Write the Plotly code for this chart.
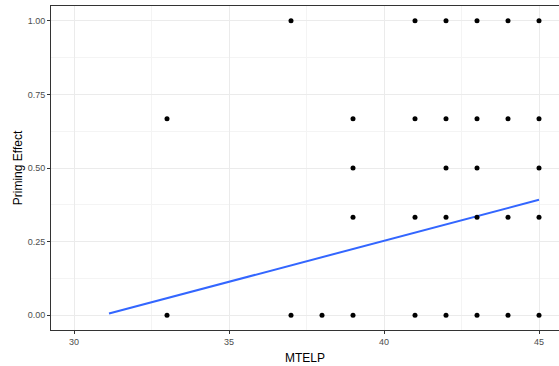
import plotly.graph_objects as go

# Observed scores
mtelp = [33, 33, 37, 37, 38,
         39, 39, 39, 39,
         41, 41, 41, 41,
         42, 42, 42, 42, 42,
         43, 43, 43, 43, 43,
         44, 44, 44, 44,
         45, 45, 45, 45, 45]
priming = [0.667, 0.0, 1.0, 0.0, 0.0,
           0.667, 0.5, 0.333, 0.0,
           1.0, 0.667, 0.333, 0.0,
           1.0, 0.667, 0.5, 0.333, 0.0,
           1.0, 0.667, 0.5, 0.333, 0.0,
           1.0, 0.667, 0.333, 0.0,
           1.0, 0.667, 0.5, 0.333, 0.0]

# Linear fit endpoints
fit_x = [31.13, 45.0]
fit_y = [0.006, 0.392]

x_ticks = [30, 35, 40, 45]
y_ticks = [0.0, 0.25, 0.5, 0.75, 1.0]
y_labels = ["0.00", "0.25", "0.50", "0.75", "1.00"]

fig = go.Figure()
fig.add_trace(go.Scatter(x=fit_x, y=fit_y, mode="lines",
                         line=dict(color="#3366FF", width=2),
                         hoverinfo="skip"))
fig.add_trace(go.Scatter(x=mtelp, y=priming, mode="markers",
                         marker=dict(color="black", size=5)))

grid_major = "#EBEBEB"
grid_minor = "#F4F4F4"
tick_font = dict(family="Liberation Sans, Arial, sans-serif", size=9, color="#4D4D4D")
title_font = dict(family="Liberation Sans, Arial, sans-serif", size=12, color="black")

fig.update_layout(
    width=559, height=366,
    margin=dict(l=51, r=0, t=6, b=36),
    paper_bgcolor="white", plot_bgcolor="white",
    showlegend=False,
    xaxis=dict(
        range=[29.258, 45.645],
        tickvals=x_ticks, ticktext=[str(v) for v in x_ticks],
        showgrid=True, gridcolor=grid_major, gridwidth=1,
        minor=dict(tickvals=[32.5, 37.5, 42.5], showgrid=True,
                   gridcolor=grid_minor, gridwidth=1, ticks=""),
        zeroline=False,
        showline=True, linecolor="#333333", linewidth=1, mirror=True,
        ticks="outside", ticklen=3, tickcolor="#333333", tickwidth=1,
        tickfont=tick_font,
        title=dict(text="MTELP", font=title_font, standoff=7),
    ),
    yaxis=dict(
        range=[-0.05, 1.05],
        tickvals=y_ticks, ticktext=y_labels,
        showgrid=True, gridcolor=grid_major, gridwidth=1,
        minor=dict(tickvals=[0.125, 0.375, 0.625, 0.875], showgrid=True,
                   gridcolor=grid_minor, gridwidth=1, ticks=""),
        zeroline=False,
        showline=True, linecolor="#333333", linewidth=1,
        ticks="outside", ticklen=3, tickcolor="#333333", tickwidth=1,
        tickfont=tick_font,
        title=dict(text="Priming Effect", font=title_font, standoff=2),
    ),
)

fig.write_html("out.html")
